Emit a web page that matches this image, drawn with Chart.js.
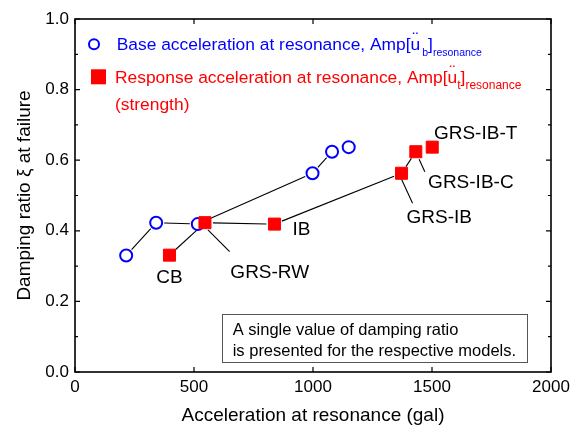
<!DOCTYPE html>
<html><head><meta charset="utf-8">
<script src="https://cdn.jsdelivr.net/npm/chart.js@4"></script>
<style>html,body{margin:0;padding:0;background:#fff;} canvas{display:block;}</style>
</head><body>
<canvas id="c" width="575" height="428"></canvas>
<script>
// ---- data ----
const baseAccel = [215, 341, 516, 998, 1080, 1150];
const baseDamping = [0.33, 0.423, 0.419, 0.563, 0.624, 0.637];
const responseLabels = ['CB', 'GRS-RW', 'IB', 'GRS-IB', 'GRS-IB-C', 'GRS-IB-T'];
const responseAccel = [397, 546, 838, 1372, 1432, 1501];
const responseDamping = [0.331, 0.423, 0.419, 0.563, 0.624, 0.637];
const xTickValues = [0, 500, 1000, 1500, 2000];
const yTickValues = [0, 0.2, 0.4, 0.6, 0.8, 1.0];
const yMinorTickValues = [0.1, 0.3, 0.5, 0.7, 0.9];
const xTitle = 'Acceleration at resonance (gal)';
const yTitle = 'Damping ratio ξ at failure';
// [main text, accented letter, subscript, closing bracket, subscript]
const legendBaseText = ['Base acceleration at resonance, Amp[', 'u', 'b', ']', 'resonance'];
const legendRespText = ['Response acceleration at resonance, Amp[', 'u', 't', ']', 'resonance'];
const legendRespText2 = '(strength)';
const noteLines = ['A single value of damping ratio', 'is presented for the respective models.'];

// ---- style ----
const FONT = '"Liberation Sans", Arial, Helvetica, sans-serif';
const BLUE = '#0000ff', RED = '#ff0000';
const labelStyle = {
  'CB':       {dx: 0,    dy: 28,   align: 'center'},
  'GRS-RW':   {dx: 25.4, dy: 55.5, align: 'left', leader: [3, 7.3, 24.7, 29]},
  'IB':       {dx: 18,   dy: 11,   align: 'left'},
  'GRS-IB':   {dx: 5,    dy: 49.4, align: 'left', leader: [0, 6, 11, 30]},
  'GRS-IB-C': {dx: 12.3, dy: 36.3, align: 'left', leader: [3.3, 7.6, 9, 20]},
  'GRS-IB-T': {dx: 1.7,  dy: -8.3, align: 'left'}
};

function trimmedSegments(ctx, pts, trim) {
  for (let i = 0; i < pts.length - 1; i++) {
    const [x1, y1] = pts[i], [x2, y2] = pts[i + 1];
    const dx = x2 - x1, dy = y2 - y1, L = Math.hypot(dx, dy);
    if (L <= 2 * trim + 2) continue;
    const ux = dx / L, uy = dy / L;
    ctx.beginPath();
    ctx.moveTo(x1 + ux * trim, y1 + uy * trim);
    ctx.lineTo(x2 - ux * trim, y2 - uy * trim);
    ctx.stroke();
  }
}

const decorPlugin = {
  id: 'decor',
  beforeDatasetsDraw(chart) {
    const {ctx, scales: {x, y}} = chart;
    ctx.save();
    ctx.strokeStyle = '#000';
    ctx.lineWidth = 1.1;
    const bp = baseAccel.map((v, i) => [x.getPixelForValue(v), y.getPixelForValue(baseDamping[i])]);
    const rp = responseAccel.map((v, i) => [x.getPixelForValue(v), y.getPixelForValue(responseDamping[i])]);
    trimmedSegments(ctx, bp, 8);
    trimmedSegments(ctx, rp, 8);
    responseLabels.forEach((lab, i) => {
      const s = labelStyle[lab];
      if (!s.leader) return;
      const [px, py] = rp[i];
      ctx.beginPath();
      ctx.moveTo(px + s.leader[0], py + s.leader[1]);
      ctx.lineTo(px + s.leader[2], py + s.leader[3]);
      ctx.stroke();
    });
    ctx.restore();
  },
  afterDatasetsDraw(chart) {
    const {ctx, chartArea: ca, scales: {x, y}} = chart;
    ctx.save();
    // frame
    ctx.strokeStyle = '#000';
    ctx.lineWidth = 1.6;
    ctx.strokeRect(ca.left, ca.top, ca.right - ca.left, ca.bottom - ca.top);
    ctx.lineWidth = 1.2;
    ctx.beginPath();
    xTickValues.forEach(v => {
      const px = x.getPixelForValue(v);
      ctx.moveTo(px, ca.bottom); ctx.lineTo(px, ca.bottom - 5);
      ctx.moveTo(px, ca.top); ctx.lineTo(px, ca.top + 5);
    });
    yTickValues.forEach(v => {
      const py = y.getPixelForValue(v);
      ctx.moveTo(ca.left, py); ctx.lineTo(ca.left + 5, py);
      ctx.moveTo(ca.right, py); ctx.lineTo(ca.right - 5, py);
    });
    yMinorTickValues.forEach(v => {
      const py = y.getPixelForValue(v);
      ctx.moveTo(ca.left, py); ctx.lineTo(ca.left + 3, py);
      ctx.moveTo(ca.right, py); ctx.lineTo(ca.right - 3, py);
    });
    ctx.stroke();

    // point labels
    ctx.fillStyle = '#000';
    ctx.font = '19px ' + FONT;
    ctx.textBaseline = 'alphabetic';
    responseLabels.forEach((lab, i) => {
      const s = labelStyle[lab];
      const px = x.getPixelForValue(responseAccel[i]);
      const py = y.getPixelForValue(responseDamping[i]);
      ctx.textAlign = s.align;
      ctx.fillText(lab, px + s.dx, py + s.dy);
    });

    // legend
    ctx.textAlign = 'left';
    function richLine(parts, x0, base, color, subSize, subGap) {
      ctx.fillStyle = color;
      const main = '17.4px ' + FONT, sub = subSize + 'px ' + FONT;
      let cx = x0;
      ctx.font = main;
      ctx.fillText(parts[0], cx, base); cx += ctx.measureText(parts[0]).width;
      // accented u with raised double dot
      const uw = ctx.measureText(parts[1]).width;
      ctx.fillText(parts[1], cx, base);
      ctx.textAlign = 'center';
      ctx.fillText('¨', cx + uw / 2, base - 6);
      ctx.textAlign = 'left';
      cx += uw + subGap;
      ctx.font = sub;
      ctx.fillText(parts[2], cx, base + 6); cx += ctx.measureText(parts[2]).width;
      ctx.font = main;
      ctx.fillText(parts[3], cx, base); cx += ctx.measureText(parts[3]).width;
      ctx.font = sub;
      ctx.fillText(parts[4], cx, base + 6);
    }
    ctx.lineWidth = 2;
    ctx.strokeStyle = BLUE;
    ctx.fillStyle = '#fff';
    ctx.beginPath(); ctx.arc(94, 44.3, 5, 0, Math.PI * 2); ctx.fill(); ctx.stroke();
    ctx.fillStyle = RED;
    ctx.fillRect(91, 69.3, 15, 15);
    richLine(legendBaseText, 116.7, 49.5, BLUE, 10.5, 2);
    richLine(legendRespText, 115, 83, RED, 12, 0);
    ctx.font = '17.4px ' + FONT;
    ctx.fillStyle = RED;
    ctx.fillText(legendRespText2, 115, 109.5);

    // note box
    ctx.strokeStyle = '#555';
    ctx.lineWidth = 1;
    ctx.strokeRect(222.5, 314.5, 305, 48);
    ctx.fillStyle = '#000';
    ctx.font = '16.5px ' + FONT;
    ctx.fillText(noteLines[0], 232.7, 335);
    ctx.fillText(noteLines[1], 232.7, 355.5);
    ctx.restore();
  }
};

new Chart(document.getElementById('c'), {
  type: 'scatter',
  data: {
    datasets: [
      {
        label: 'Response',
        data: responseAccel.map((v, i) => ({x: v, y: responseDamping[i]})),
        pointStyle: 'rect', pointRadius: 8.5, pointHoverRadius: 8.5,
        backgroundColor: RED, borderColor: RED, borderWidth: 1,
        showLine: false, order: 1
      },
      {
        label: 'Base',
        data: baseAccel.map((v, i) => ({x: v, y: baseDamping[i]})),
        pointStyle: 'circle', pointRadius: 6, pointHoverRadius: 6,
        backgroundColor: '#fff', borderColor: BLUE, borderWidth: 2,
        showLine: false, order: 2
      }
    ]
  },
  options: {
    responsive: false,
    animation: false,
    devicePixelRatio: 1,
    layout: {padding: {top: 19, right: 24, left: 0, bottom: 0}},
    plugins: {legend: {display: false}, tooltip: {enabled: false}},
    scales: {
      x: {
        type: 'linear', min: 0, max: 2000,
        afterBuildTicks: s => { s.ticks = xTickValues.map(v => ({value: v})); },
        ticks: {padding: 5, color: '#000', font: {family: FONT, size: 17}, callback: v => String(v)},
        grid: {display: false, drawTicks: false},
        border: {display: false},
        title: {display: true, text: xTitle, color: '#000', font: {family: FONT, size: 19}, padding: {top: 0, bottom: 1}},
        afterFit: s => { s.height = 56; }
      },
      y: {
        type: 'linear', min: 0, max: 1,
        afterBuildTicks: s => { s.ticks = yTickValues.map(v => ({value: v})); },
        ticks: {padding: 6, color: '#000', font: {family: FONT, size: 17}, callback: v => Number(v).toFixed(1)},
        grid: {display: false, drawTicks: false},
        border: {display: false},
        title: {display: true, text: yTitle, color: '#000', font: {family: FONT, size: 19}, padding: {top: 13, bottom: 0}},
        afterFit: s => { s.width = 75; }
      }
    }
  },
  plugins: [decorPlugin]
});
</script>
</body></html>
